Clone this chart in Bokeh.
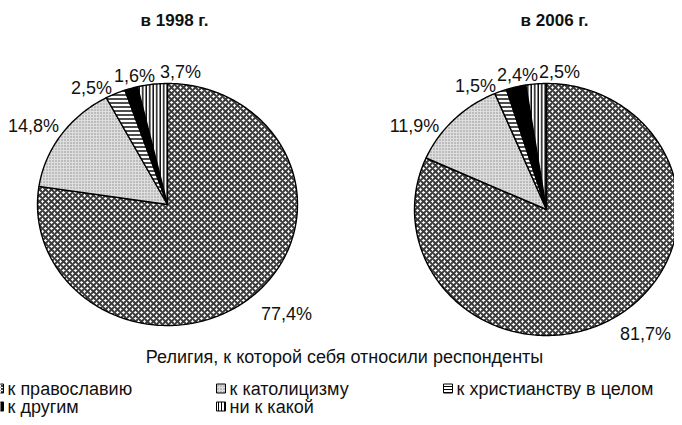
import numpy as np
from bokeh.plotting import figure
from bokeh.models import Range1d, ColumnDataSource
from bokeh.embed import file_html
from bokeh.resources import INLINE
from bokeh.core.properties import value

# ---------------- data ----------------
categories = ["к православию", "к католицизму", "к христианству в целом", "к другим", "ни к какой"]
share_1998 = [77.4, 14.8, 2.5, 1.6, 3.7]
share_2006 = [81.7, 11.9, 1.5, 2.4, 2.5]
years = ["в 1998 г.", "в 2006 г."]
legend_title = "Религия, к которой себя относили респонденты"

# ---------------- styles ----------------
FONT = value("Liberation Sans")
TXT = "#111111"
fill_colors = ["white", "#dedede", "white", "black", "white"]
hatch_patterns = ["diagonal_cross", "dot", "horizontal_line", "blank", "vertical_line"]
hatch_scales = [6, 3, 4, 6, 3.5]
hatch_weights = [2.0, 1.0, 1.4, 1.0, 1.4]
hatch_colors = ["#3c3c3c", "#8a8a8a", "black", "black", "black"]

W, H = 674, 417
p = figure(width=W, height=H, x_range=Range1d(0, W), y_range=Range1d(H, 0),
           output_backend="svg", toolbar_location=None, min_border=0)
p.axis.visible = False
p.grid.visible = False
p.outline_line_color = None
p.background_fill_color = "white"

# pie layout: center x, center y, radius x, radius y (pixels)
pies = [(167, 204, 130, 121), (546, 209, 132, 126)]
title_pos = [(174, 20), (554, 20)]
label_pos = [
    [(286, 313), (33, 125), (91, 87), (134, 75), (180, 71)],
    [(645, 333), (414, 125), (475, 85), (517, 74), (559, 71)],
]


def pie_source(vals, cx, cy, rx, ry):
    total = float(sum(vals))
    edges = np.concatenate([[0.0], np.cumsum(vals)]) / total * 2 * np.pi
    xs, ys = [], []
    for a0, a1 in zip(edges[:-1], edges[1:]):
        n = max(4, int((a1 - a0) / (2 * np.pi) * 360))
        th = np.linspace(a0, a1, n)
        xs.append(np.concatenate([[cx], cx + rx * np.sin(th)]))
        ys.append(np.concatenate([[cy], cy - ry * np.cos(th)]))
    return ColumnDataSource(dict(xs=xs, ys=ys, fill=fill_colors, hp=hatch_patterns,
                                 hs=hatch_scales, hw=hatch_weights, hc=hatch_colors))


for vals, (cx, cy, rx, ry), tp, lp, yr in zip([share_1998, share_2006], pies, title_pos,
                                              label_pos, years):
    src = pie_source(vals, cx, cy, rx, ry)
    p.patches("xs", "ys", source=src, fill_color="fill", hatch_pattern="hp",
              hatch_scale="hs", hatch_weight="hw", hatch_color="hc",
              line_color="black", line_width=1.4)
    labels = [f"{v:.1f}%".replace(".", ",") for v in vals]
    p.text(x=[q[0] for q in lp], y=[q[1] for q in lp], text=labels, text_font=FONT,
           text_font_size="18px", text_color=TXT, text_align="center",
           text_baseline="middle")
    p.text(x=[tp[0]], y=[tp[1]], text=[yr], text_font=FONT, text_font_size="17px",
           text_font_style="bold", text_color=TXT, text_align="center",
           text_baseline="middle")

# ---------------- legend ----------------
p.text(x=[344], y=[356], text=[legend_title], text_font=FONT, text_font_size="18px",
       text_color=TXT, text_align="center", text_baseline="middle")

col_x = [-6, 216, 443]
rows_y = [388, 406]
slots = [(0, 0), (1, 0), (2, 0), (0, 1), (1, 1)]
ix, iy, tx = [], [], []
for c, r in slots:
    ix.append(col_x[c])
    iy.append(rows_y[r])
    tx.append(col_x[c] + 13)
leg = ColumnDataSource(dict(left=ix, right=[v + 9 for v in ix], top=[v - 4.5 for v in iy],
                            bottom=[v + 4.5 for v in iy], fill=fill_colors, hp=hatch_patterns,
                            hc=hatch_colors, tx=tx, ty=iy, label=categories))
p.quad(left="left", right="right", top="top", bottom="bottom", source=leg,
       fill_color="fill", hatch_pattern="hp", hatch_scale=3, hatch_weight=1,
       hatch_color="hc", line_color="black", line_width=1)
p.text(x="tx", y="ty", text="label", source=leg, text_font=FONT, text_font_size="18px",
       text_color=TXT, text_align="left", text_baseline="middle")

open("out.html", "w").write(file_html(p, INLINE))
